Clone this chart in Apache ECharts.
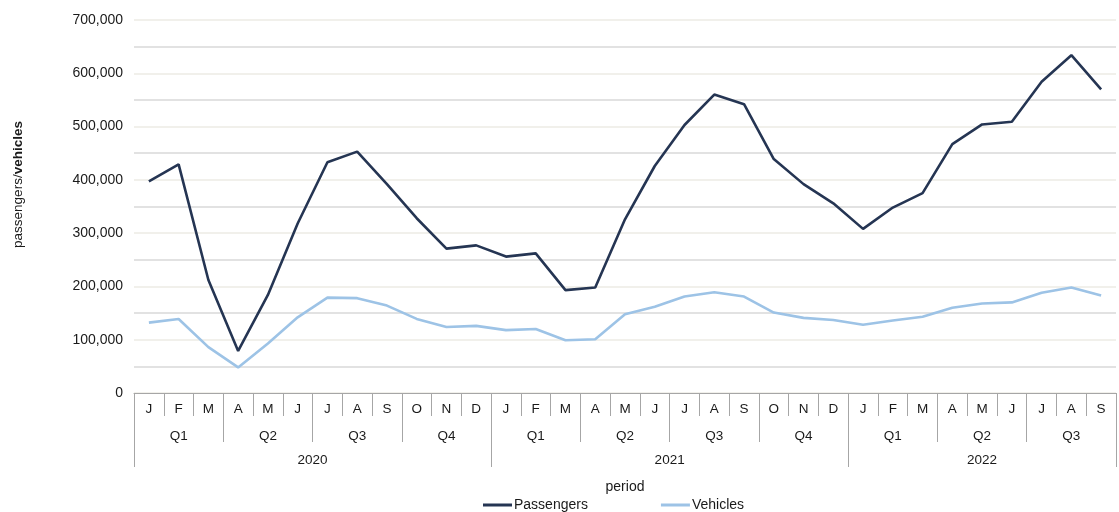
<!DOCTYPE html>
<html>
<head>
<meta charset="utf-8">
<script src="https://cdn.jsdelivr.net/npm/echarts@6/dist/echarts.min.js"></script>
<style>html,body{margin:0;padding:0;background:#fff}#c{width:1119px;height:512px}</style>
</head>
<body>
<div id="c"></div>
<script>
const months = ['J','F','M','A','M','J','J','A','S','O','N','D',
                'J','F','M','A','M','J','J','A','S','O','N','D',
                'J','F','M','A','M','J','J','A','S'];
const quarters = ['Q1','Q2','Q3','Q4','Q1','Q2','Q3','Q4','Q1','Q2','Q3'];
const years = ['2020','2021','2022'];
const monthsPerYear = [12, 12, 9];
const passengers = [397000,429000,212000,79000,184000,318000,433000,453000,392000,328000,271000,277000,
                    256000,262000,193000,198000,326000,426000,503000,560000,542000,439000,392000,356000,
                    308000,348000,375000,467000,504000,509000,584000,634000,570000];
const vehicles = [132000,139000,86000,48000,93000,142000,179000,178000,164000,139000,124000,126000,
                  118000,120000,99000,101000,148000,162000,181000,189000,181000,151000,141000,137000,
                  128000,136000,143000,160000,168000,170000,188000,198000,183000];

// year axis built on half-month boundary points
const nMonths = months.length;
const yearAxisData = new Array(2 * nMonths + 1).fill('');
const yearTickIdx = new Set();
let start = 0;
years.forEach((y, i) => {
  yearAxisData[2 * start + monthsPerYear[i]] = y;
  yearTickIdx.add(2 * start);
  start += monthsPerYear[i];
});
yearTickIdx.add(2 * nMonths);

const FONT = "'Liberation Sans', Arial, sans-serif";
const axisColor = '#a6a6a6';
const labelColor = '#1a1a1a';

const chart = echarts.init(document.getElementById('c'));
chart.setOption({
  animation: false,
  textStyle: { fontFamily: FONT },
  grid: { left: 134, right: 2, top: 20, bottom: 119, containLabel: false },
  legend: {
    top: 498, left: 483, padding: 0,
    icon: 'rect', itemWidth: 29, itemHeight: 3, itemGap: 73,
    textStyle: { fontFamily: FONT, fontSize: 14, color: labelColor, padding: [0,0,0,-3] },
    data: ['Passengers', 'Vehicles']
  },
  xAxis: [
    {
      type: 'category', data: months, boundaryGap: true, position: 'bottom',
      name: 'period', nameLocation: 'middle', nameGap: 87,
      nameTextStyle: { fontFamily: FONT, fontSize: 14, color: labelColor },
      axisLine: { show: true, lineStyle: { color: axisColor, width: 1 } },
      axisTick: { show: true, interval: 0, length: 23, alignWithLabel: false, lineStyle: { color: axisColor } },
      axisLabel: { interval: 0, margin: 9, fontSize: 13.5, color: labelColor, fontFamily: FONT },
      splitLine: { show: false }
    },
    {
      type: 'category', data: quarters, boundaryGap: true, position: 'bottom', offset: 23,
      axisLine: { show: false },
      axisTick: { show: true, interval: 0, length: 26, alignWithLabel: false, lineStyle: { color: axisColor } },
      axisLabel: { interval: 0, margin: 13, fontSize: 13.5, color: labelColor, fontFamily: FONT },
      splitLine: { show: false }
    },
    {
      type: 'category', data: yearAxisData, boundaryGap: false, position: 'bottom', offset: 49,
      axisLine: { show: false },
      axisTick: { show: true, interval: (idx) => yearTickIdx.has(idx), length: 25, lineStyle: { color: axisColor } },
      axisLabel: { interval: 0, margin: 11, fontSize: 13.5, color: labelColor, fontFamily: FONT },
      splitLine: { show: false }
    }
  ],
  yAxis: {
    type: 'value', min: 0, max: 700000, interval: 100000,
    name: 'passengers/{b|vehicles}', nameLocation: 'middle', nameGap: 109,
    nameTextStyle: {
      fontFamily: FONT, fontSize: 13.5, color: labelColor, padding: [0, 0, 0, 44],
      rich: { b: { fontWeight: 'bold', fontFamily: FONT, fontSize: 13.5, color: labelColor } }
    },
    axisLine: { show: false },
    axisTick: { show: false },
    axisLabel: {
      margin: 11, fontSize: 14, color: labelColor, fontFamily: FONT,
      formatter: v => v.toLocaleString('en-US')
    },
    splitLine: { show: true, lineStyle: { color: '#ecebe4', width: 1.5 } },
    minorTick: { show: false, splitNumber: 2 },
    minorSplitLine: { show: true, lineStyle: { color: '#d9d9d9', width: 1.5 } }
  },
  series: [
    {
      name: 'Passengers', type: 'line', xAxisIndex: 0, data: passengers,
      symbol: 'none', color: '#253553',
      lineStyle: { width: 2.6, color: '#253553' }
    },
    {
      name: 'Vehicles', type: 'line', xAxisIndex: 0, data: vehicles,
      symbol: 'none', color: '#9dc3e6',
      lineStyle: { width: 2.6, color: '#9dc3e6' }
    }
  ]
});
</script>
</body>
</html>
